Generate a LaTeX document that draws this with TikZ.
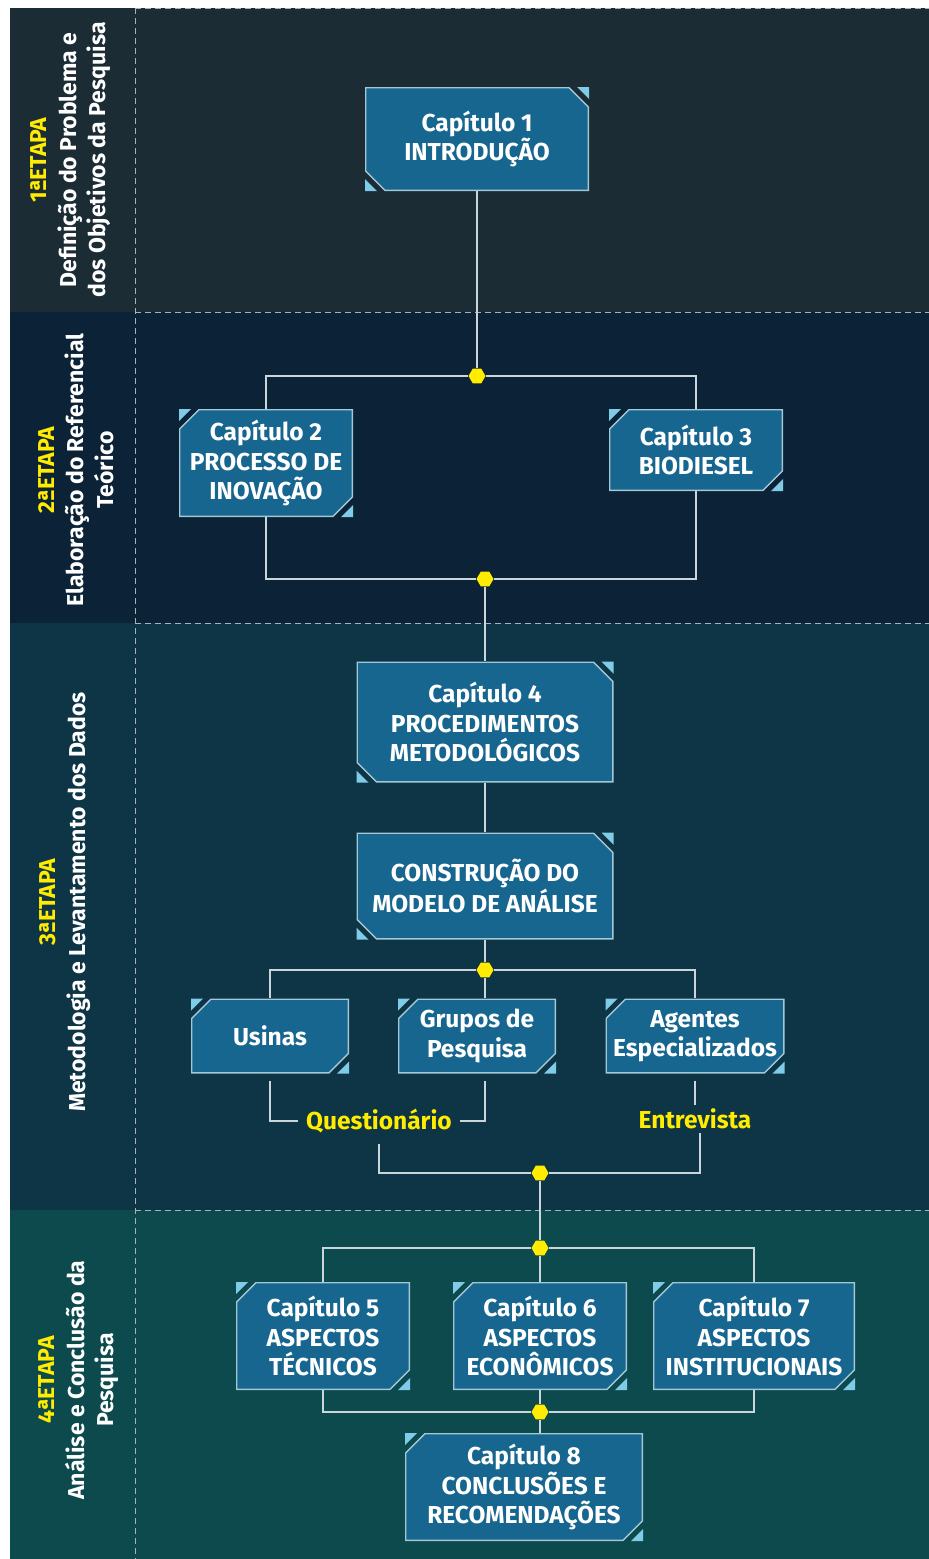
\documentclass[tikz,border=0pt]{standalone}
\usepackage{fontspec}
\setmainfont{Fira Sans}
\usetikzlibrary{shapes.geometric}

\definecolor{bandone}{HTML}{1B2C35}
\definecolor{bandtwo}{HTML}{0C2236}
\definecolor{bandthree}{HTML}{0E3545}
\definecolor{bandfour}{HTML}{0C4A4E}
\definecolor{boxfill}{HTML}{17668F}
\definecolor{boxedge}{HTML}{A3C7D5}
\definecolor{boxmark}{HTML}{7FCBE8}
\definecolor{dotyellow}{HTML}{FFEC00}
\definecolor{linkgray}{HTML}{CBD6DC}
\definecolor{sepgray}{HTML}{A7B3B8}

\tikzset{
  chap/.style={rectangle, inner sep=0pt, align=center, text=white,
    font=\bfseries\fontsize{24.5}{29.5}\selectfont},
  cutne/.style={chap, path picture={
    \filldraw[draw=boxedge, fill=boxfill, line width=1.4pt]
      ([shift={(0.7pt,-0.7pt)}]path picture bounding box.north west)
      -- ([shift={(-20pt,-0.7pt)}]path picture bounding box.north east)
      -- ([shift={(-0.7pt,-20pt)}]path picture bounding box.north east)
      -- ([shift={(-0.7pt,0.7pt)}]path picture bounding box.south east)
      -- ([shift={(20pt,0.7pt)}]path picture bounding box.south west)
      -- ([shift={(0.7pt,20pt)}]path picture bounding box.south west) -- cycle;
    \fill[boxmark] (path picture bounding box.north east) -- ++(-12pt,0pt) -- ++(12pt,-12pt) -- cycle;
    \fill[boxmark] (path picture bounding box.south west) -- ++(12pt,0pt) -- ++(-12pt,12pt) -- cycle;
  }},
  cutnw/.style={chap, path picture={
    \filldraw[draw=boxedge, fill=boxfill, line width=1.4pt]
      ([shift={(20pt,-0.7pt)}]path picture bounding box.north west)
      -- ([shift={(-0.7pt,-0.7pt)}]path picture bounding box.north east)
      -- ([shift={(-0.7pt,20pt)}]path picture bounding box.south east)
      -- ([shift={(-20pt,0.7pt)}]path picture bounding box.south east)
      -- ([shift={(0.7pt,0.7pt)}]path picture bounding box.south west)
      -- ([shift={(0.7pt,-20pt)}]path picture bounding box.north west) -- cycle;
    \fill[boxmark] (path picture bounding box.north west) -- ++(12pt,0pt) -- ++(-12pt,-12pt) -- cycle;
    \fill[boxmark] (path picture bounding box.south east) -- ++(-12pt,0pt) -- ++(12pt,12pt) -- cycle;
  }},
  dot/.style={regular polygon, regular polygon sides=6, fill=dotyellow, inner sep=0pt, minimum size=17pt},
  link/.style={draw=linkgray, line width=1.8pt},
  sep/.style={draw=sepgray, dash pattern=on 6pt off 4pt, line width=1pt},
  stage/.style={rotate=90, align=center, text=white, font=\bfseries\fontsize{23}{29.5}\selectfont},
  tool/.style={text=dotyellow, inner sep=8pt, font=\bfseries\fontsize{24.5}{29}\selectfont}
}

\begin{document}
\begin{tikzpicture}[x=1pt, y=-1pt]
  \useasboundingbox[fill=white] (0,0) rectangle (929,1559);
  \fill[bandone] (10,8) rectangle (929,312);
  \fill[bandtwo] (10,312) rectangle (929,623);
  \fill[bandthree] (10,623) rectangle (929,1210);
  \fill[bandfour] (10,1210) rectangle (929,1559);
  \draw[sep] (135,8) -- (929,8);
  \draw[sep] (135,312) -- (929,312);
  \draw[sep] (135,623) -- (929,623);
  \draw[sep] (135,1210) -- (929,1210);
  \draw[sep] (135,8) -- (135,1559);

  % etapas
  \node[stage] (e1) at (71,160) {\textcolor{dotyellow}{1ªETAPA}\\Definição do Problema e\\dos Objetivos da Pesquisa};
  \node[stage] (e2) at (76,470) {\textcolor{dotyellow}{2ªETAPA}\\Elaboração do Referencial\\Teórico};
  \node[stage] (e3) at (65,902) {\textcolor{dotyellow}{3ªETAPA}\\Metodologia e Levantamento dos Dados};
  \node[stage] (e4) at (79,1380) {\textcolor{dotyellow}{4ªETAPA}\\Análise e Conclusão da\\Pesquisa};

  % capitulos
  \node[cutne, minimum width=224pt, minimum height=104pt] (c1) at (477,139) {Capítulo 1\\INTRODUÇÃO};
  \node[cutnw, minimum width=174pt, minimum height=108pt] (c2) at (266,463) {Capítulo 2\\PROCESSO DE\\INOVAÇÃO};
  \node[cutnw, minimum width=174pt, minimum height=82pt] (c3) at (696,450) {Capítulo 3\\BIODIESEL};
  \node[cutne, minimum width=257pt, minimum height=121pt] (c4) at (485,722) {Capítulo 4\\PROCEDIMENTOS\\METODOLÓGICOS};
  \node[cutne, minimum width=257pt, minimum height=107pt] (cm) at (485,886) {CONSTRUÇÃO DO\\MODELO DE ANÁLISE};
  \node[cutnw, minimum width=158pt, minimum height=75pt] (us) at (270,1036) {Usinas};
  \node[cutnw, minimum width=158pt, minimum height=75pt] (gp) at (477,1036) {Grupos de\\Pesquisa};
  \node[cutnw, minimum width=179pt, minimum height=75pt] (ag) at (695,1036) {Agentes\\Especializados};
  \node[cutnw, minimum width=174pt, minimum height=108pt] (c5) at (323,1336) {Capítulo 5\\ASPECTOS\\TÉCNICOS};
  \node[cutnw, minimum width=174pt, minimum height=108pt] (c6) at (540,1336) {Capítulo 6\\ASPECTOS\\ECONÔMICOS};
  \node[cutnw, minimum width=202pt, minimum height=108pt] (c7) at (754,1336) {Capítulo 7\\ASPECTOS\\INSTITUCIONAIS};
  \node[cutnw, minimum width=238pt, minimum height=108pt] (c8) at (524,1487) {Capítulo 8\\CONCLUSÕES E\\RECOMENDAÇÕES};

  \node[tool] (qn) at (379,1121) {Questionário};
  \node[tool, inner sep=4pt] (en) at (695,1119) {Entrevista};

  % ligacoes
  \node[dot] (j1) at (477,376) {};
  \node[dot] (j2) at (485,579) {};
  \node[dot] (j3) at (485,970) {};
  \node[dot] (j4) at (540,1173) {};
  \node[dot] (j5) at (540,1248) {};
  \node[dot] (j6) at (540,1412) {};

  \draw[link] (c1) -- (j1);
  \draw[link] (c2.north) |- (j1) -| (c3.north);
  \draw[link] (c2.south) |- (j2) -| (c3.south);
  \draw[link] (j2) -- (c4);
  \draw[link] (c4) -- (cm);
  \draw[link] (cm) -- (j3);
  \draw[link] (us.north) |- (j3) -| (ag.north);
  \draw[link] (j3) -- (j3 |- gp.north);
  \draw[link, shorten <=7pt] (us.south) |- (qn.west);
  \draw[link, shorten <=7pt] (j3 |- gp.south) |- (qn.east);
  \draw[link, shorten <=7pt] (ag.south) -- (ag.south |- en.north);
  \draw[link, shorten <=3pt] (qn.south) |- (j4);
  \draw[link] (j4) -| ([xshift=5pt]en.south);
  \draw[link] (j4) -- (j5);
  \draw[link] (c5.north) |- (j5) -| (c7.north);
  \draw[link] (j5) -- (c6);
  \draw[link] (c5.south) |- (j6) -| (c7.south);
  \draw[link] (c6) -- (j6);
  \draw[link] (j6) -- (j6 |- c8.north);
\end{tikzpicture}
\end{document}
